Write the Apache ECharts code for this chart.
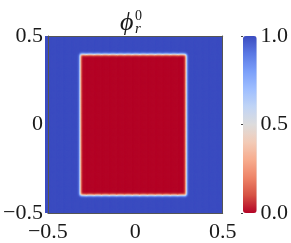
<!DOCTYPE html>
<html><head><meta charset="utf-8">
<script src="https://cdn.jsdelivr.net/npm/echarts@6/dist/echarts.min.js"></script>
<style>html,body{margin:0;padding:0;background:#fff}#c{width:291px;height:243px}</style>
</head><body><div id="c"></div>
<script>
const xTickValues = [-0.5, 0, 0.5];
const xTickLabels = ['\u22120.5', '0', '0.5'];
const yTickValues = [-0.5, 0, 0.5];
const yTickLabels = ['\u22120.5', '0', '0.5'];
const cbTickValues = [0, 0.5, 1];
const cbTickLabels = ['0.0', '0.5', '1.0'];
const domain = [-0.5, 0.5];
const cellsPerHalf = 100;            // cells from centre to edge (cell = 0.005)
const rectHalfCells = [60, 80];      // rectangle half width / half height: 0.3, 0.4
const interfaceValues = [0.0, 0.02, 0.07, 0.24, 0.5, 0.76, 0.93, 0.98, 1.0]; // value at -4..+4 cells from edge
const colormap = ['#b40426','#d65244','#ee8468','#f7ac8e','#f2cbb7','#dddcdc','#c0d4f5','#9ebeff','#7b9ff9','#5a78e4','#3b4cc0'];

const n = 2 * cellsPerHalf + 1;
const half = (interfaceValues.length - 1) / 2;
function prof(d) {
  let k = d + half;
  if (k < 0) k = 0;
  if (k > interfaceValues.length - 1) k = interfaceValues.length - 1;
  return interfaceValues[k];
}
const cats = [];
for (let i = 0; i < n; i++) cats.push(i);
const data = [];
for (let i = 0; i < n; i++) {
  const px = prof(Math.abs(i - cellsPerHalf) - rectHalfCells[0]);
  for (let j = 0; j < n; j++) {
    const py = prof(Math.abs(j - cellsPerHalf) - rectHalfCells[1]);
    data.push([i, j, 1 - (1 - px) * (1 - py)]);
  }
}
function lab(vals, labs) {
  return v => { const k = vals.findIndex(t => Math.abs(t - v) < 1e-9); return k >= 0 ? labs[k] : ''; };
}
const FONT = "'Liberation Serif','DejaVu Serif',serif";
const TXT = '#1a1a1a';
const FRAME = '#555';
const G = { left: 45, top: 36, width: 177.7, height: 177 };
const CB = { left: 243, top: 36, width: 13.7, height: 177 };

const chart = echarts.init(document.getElementById('c'), null, { renderer: 'canvas' });
chart.setOption({
  animation: false,
  grid: [
    Object.assign({}, G),
    Object.assign({}, G),
    Object.assign({}, CB)
  ],
  xAxis: [
    { gridIndex: 0, type: 'category', data: cats, show: false },
    { gridIndex: 1, type: 'value', min: domain[0], max: domain[1], interval: 0.5, position: 'bottom', z: 10,
      axisLine: { show: true, onZero: false, lineStyle: { color: FRAME, width: 1 } },
      axisTick: { show: false }, splitLine: { show: false },
      axisLabel: { formatter: lab(xTickValues, xTickLabels), fontFamily: FONT, fontSize: 22, color: TXT, margin: 8 } },
    { gridIndex: 1, type: 'value', min: domain[0], max: domain[1], position: 'top', z: 10,
      axisLine: { show: true, onZero: false, lineStyle: { color: FRAME, width: 1 } },
      axisTick: { show: false }, splitLine: { show: false }, axisLabel: { show: false } },
    { gridIndex: 2, type: 'value', show: false, min: 0, max: 1 }
  ],
  yAxis: [
    { gridIndex: 0, type: 'category', data: cats, show: false },
    { gridIndex: 1, type: 'value', min: domain[0], max: domain[1], interval: 0.5, position: 'left', z: 10,
      axisLine: { show: true, onZero: false, lineStyle: { color: FRAME, width: 1 } },
      axisTick: { show: false }, splitLine: { show: false },
      axisLabel: { formatter: lab(yTickValues, yTickLabels), fontFamily: FONT, fontSize: 22, color: TXT, margin: 5 } },
    { gridIndex: 1, type: 'value', min: domain[0], max: domain[1], position: 'right', z: 10,
      axisLine: { show: true, onZero: false, lineStyle: { color: FRAME, width: 1 } },
      axisTick: { show: false }, splitLine: { show: false }, axisLabel: { show: false } },
    { gridIndex: 2, type: 'value', min: 0, max: 1, interval: 0.5, position: 'right', z: 10,
      axisLine: { show: false },
      axisTick: { show: true, inside: true, length: 2, lineStyle: { color: '#444' } },
      splitLine: { show: false },
      axisLabel: { formatter: lab(cbTickValues, cbTickLabels), fontFamily: FONT, fontSize: 22, color: TXT, margin: 6 } }
  ],
  visualMap: {
    type: 'continuous', min: 0, max: 1, calculable: false, seriesIndex: 0, dimension: 2,
    orient: 'vertical', left: CB.left, top: CB.top, itemWidth: CB.width, itemHeight: CB.height,
    padding: 0, text: null, showLabel: false,
    inRange: { color: colormap }
  },
  series: [{
    type: 'custom', xAxisIndex: 0, yAxisIndex: 0, data: data,
    encode: { x: 0, y: 1 }, progressive: 0, silent: true,
    clip: true,
    renderItem: function (params, api) {
      const c = api.coord([api.value(0), api.value(1)]);
      const s = api.size([1, 1]);
      return {
        type: 'rect',
        shape: { x: c[0] - s[0] / 2 - 0.5, y: c[1] - s[1] / 2 - 0.5, width: s[0] + 1, height: s[1] + 1 },
        style: { fill: api.visual('color') }
      };
    }
  }],
  graphic: [
    { type: 'text', left: 120, top: 10, style: { text: '\u03D5', font: "italic 26px " + FONT, fill: TXT } },
    { type: 'text', left: 135, top: 9, style: { text: '0', font: "14px " + FONT, fill: TXT } },
    { type: 'text', left: 135, top: 22, style: { text: 'r', font: "italic 15px " + FONT, fill: TXT } }
  ]
});
</script>
</body></html>
